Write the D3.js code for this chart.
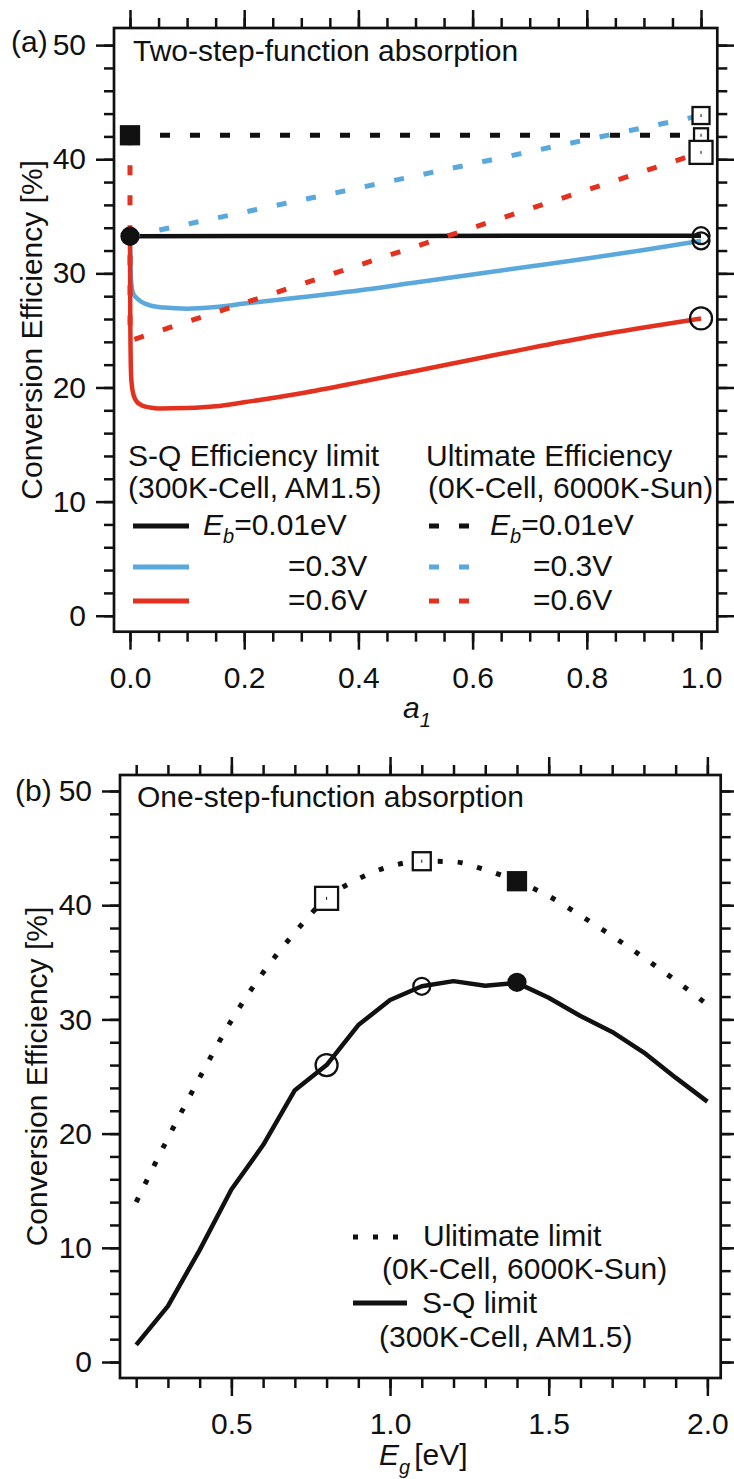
<!DOCTYPE html>
<html>
<head>
<meta charset="utf-8">
<script src="https://cdn.jsdelivr.net/npm/d3@7"></script>
<style>
  body { margin: 0; background: #fff; }
</style>
</head>
<body>
<div id="chart"></div>
<script>
// ---------- data, panel (a): efficiency vs a1 ----------
const aSqBlack = [[0, 33.25], [0.5, 33.28], [1.0, 33.3]];
const aSqBlue = [[0, 33.25], [0.001, 30.5], [0.003, 28.8], [0.006, 28.2], [0.015, 27.7], [0.035, 27.2],
  [0.06, 27.0], [0.1, 26.9], [0.15, 27.05], [0.2, 27.35], [0.3, 27.9], [0.4, 28.5], [0.5, 29.2],
  [0.6, 29.9], [0.7, 30.6], [0.8, 31.3], [0.9, 32.05], [1.0, 32.85]];
const aSqRed = [[0, 33.25], [0.0005, 26.0], [0.002, 21.0], [0.005, 19.6], [0.01, 18.9], [0.02, 18.45],
  [0.035, 18.25], [0.05, 18.16], [0.1, 18.2], [0.15, 18.35], [0.2, 18.7], [0.3, 19.5], [0.4, 20.45],
  [0.5, 21.45], [0.6, 22.45], [0.7, 23.45], [0.8, 24.4], [0.9, 25.25], [1.0, 26.05]];
const aUltBlack = [[0, 42.1], [1.0, 42.1]];
const aUltBlue = [[0, 33.25], [1.0, 43.83]];
const aUltRed = [[0, 42.1], [0, 24.1], [1.0, 40.6]];
// marker points of panel (a)
const aCircles = [[0, 33.25], [1.0, 33.3], [1.0, 32.85], [1.0, 26.05]];
const aSquares = [[0, 42.1], [1.0, 43.83], [1.0, 42.1], [1.0, 40.6]];

// ---------- data, panel (b): efficiency vs Eg ----------
const eg = [0.2, 0.3, 0.4, 0.5, 0.6, 0.7, 0.8, 0.9, 1.0, 1.1, 1.2, 1.3, 1.4, 1.5, 1.6, 1.7, 1.8, 1.9, 2.0];
const ultimate = [14.0, 19.6, 24.9, 29.9, 34.1, 37.6, 40.6, 42.3, 43.4, 43.85, 43.8, 43.1, 42.1, 40.8, 39.1, 37.3, 35.4, 33.4, 31.3];
const sqLimit = [1.5, 4.9, 9.8, 15.1, 19.0, 23.8, 26.0, 29.5, 31.7, 32.9, 33.35, 32.95, 33.2, 31.9, 30.3, 28.9, 27.1, 24.9, 22.8];
const bCircles = [[0.8, 26.0], [1.1, 32.9], [1.4, 33.25]];
const bSquares = [[0.8, 40.6], [1.1, 43.85], [1.4, 42.1]];

// ticks
const aXMajor = [0, 0.2, 0.4, 0.6, 0.8, 1.0];
const bXMajor = [0.5, 1.0, 1.5, 2.0];
const yMajor = [0, 10, 20, 30, 40, 50];

const FONT = "'Liberation Sans', Arial, Helvetica, sans-serif";
const BLUE = "#5aa8dc", RED = "#e2321f", INK = "#111";

const svg = d3.select("#chart")
  .append("svg")
  .attr("width", 734)
  .attr("height", 1479)
  .attr("font-family", FONT)
  .style("background", "#fff");

// scales
const xA = d3.scaleLinear().domain([-0.028, 1.0285]).range([114, 717.3]);
const yA = d3.scaleLinear().domain([-1.4, 51.5]).range([631.7, 28]);
const xB = d3.scaleLinear().domain([0.149, 2.042]).range([120, 720.7]);
const yB = d3.scaleLinear().domain([-1.4, 51.4]).range([1378, 775]);

function styleAxis(g) {
  g.select(".domain").remove();
  g.attr("font-family", FONT).attr("font-size", 30).attr("color", INK);
  g.selectAll(".tick line").attr("stroke-width", 2.5);
}

// frame with ticks on all four sides
function frame(x, y, xMajor, xMinor, yMinor) {
  const [x0, x1] = x.range(), [y0, y1] = y.range();
  svg.append("g").attr("transform", `translate(0,${y0})`)
    .call(d3.axisBottom(x).tickValues(xMinor).tickSize(10).tickFormat("")).call(styleAxis);
  svg.append("g").attr("transform", `translate(0,${y0})`)
    .call(d3.axisBottom(x).tickValues(xMajor).tickSize(18).tickPadding(17).tickFormat(d3.format(".1f"))).call(styleAxis);
  svg.append("g").attr("transform", `translate(0,${y1})`)
    .call(d3.axisTop(x).tickValues(xMinor).tickSize(10).tickFormat("")).call(styleAxis);
  svg.append("g").attr("transform", `translate(0,${y1})`)
    .call(d3.axisTop(x).tickValues(xMajor).tickSize(18).tickFormat("")).call(styleAxis);
  svg.append("g").attr("transform", `translate(${x0},0)`)
    .call(d3.axisLeft(y).tickValues(yMinor).tickSize(10).tickFormat("")).call(styleAxis);
  svg.append("g").attr("transform", `translate(${x0},0)`)
    .call(d3.axisLeft(y).tickValues(yMajor).tickSize(18).tickPadding(10).tickFormat(d3.format("d"))).call(styleAxis);
  svg.append("g").attr("transform", `translate(${x1},0)`)
    .call(d3.axisRight(y).tickValues(yMinor).tickSize(10).tickFormat("")).call(styleAxis);
  svg.append("g").attr("transform", `translate(${x1},0)`)
    .call(d3.axisRight(y).tickValues(yMajor).tickSize(18).tickFormat("")).call(styleAxis);
  svg.append("rect")
    .attr("x", x0).attr("y", y1)
    .attr("width", x1 - x0).attr("height", y0 - y1)
    .attr("fill", "none").attr("stroke", INK).attr("stroke-width", 2.7);
}

function drawLine(data, x, y, color, width, dash, curve) {
  svg.append("path")
    .datum(data)
    .attr("fill", "none")
    .attr("stroke", color)
    .attr("stroke-width", width)
    .attr("stroke-dasharray", dash)
    .attr("stroke-linejoin", "round")
    .attr("d", d3.line().x(d => x(d[0])).y(d => y(d[1])).curve(curve || d3.curveLinear));
}

function circles(pts, x, y, radii, fills) {
  svg.selectAll(null).data(pts).enter().append("circle")
    .attr("cx", d => x(d[0])).attr("cy", d => y(d[1]))
    .attr("r", (d, i) => radii[i])
    .attr("fill", (d, i) => fills[i] ? INK : "none")
    .attr("stroke", INK).attr("stroke-width", 2.3);
}

function squares(pts, x, y, sizes, fills) {
  svg.selectAll(null).data(pts).enter().append("rect")
    .attr("x", (d, i) => x(d[0]) - sizes[i] / 2).attr("y", (d, i) => y(d[1]) - sizes[i] / 2)
    .attr("width", (d, i) => sizes[i]).attr("height", (d, i) => sizes[i])
    .attr("fill", (d, i) => fills[i] ? INK : "#fff")
    .attr("stroke", INK).attr("stroke-width", 2.3);
  // tiny centre point of the open squares
  svg.selectAll(null).data(pts.filter((d, i) => !fills[i])).enter().append("rect")
    .attr("x", d => x(d[0]) - 0.5).attr("y", d => y(d[1]) - 1.5)
    .attr("width", 1).attr("height", 3).attr("fill", INK);
}

// ================= panel (a) =================
frame(xA, yA, aXMajor, d3.range(0, 1.001, 0.05), d3.range(0, 51, 2));

drawLine(aSqBlue, xA, yA, BLUE, 4.5, null, d3.curveMonotoneX);
drawLine(aSqRed, xA, yA, RED, 4.5, null, d3.curveMonotoneX);
drawLine(aSqBlack, xA, yA, INK, 4.5, null);
drawLine(aUltBlack, xA, yA, INK, 5, "10,20");
drawLine(aUltBlue, xA, yA, BLUE, 5, "10,20");
drawLine(aUltRed, xA, yA, RED, 5, "10,20");

circles(aCircles, xA, yA, [8.5, 8.5, 8.5, 11], [true, false, false, false]);
squares(aSquares, xA, yA, [18, 17, 14, 23], [true, false, false, false]);

svg.append("text").attr("x", 11).attr("y", 52).attr("font-size", 30).attr("fill", INK).text("(a)");
svg.append("text").attr("x", 133).attr("y", 61).attr("font-size", 30).attr("fill", INK).text("Two-step-function absorption");

svg.append("text")
  .attr("transform", `translate(42,${(28 + 631.7) / 2}) rotate(-90)`)
  .attr("text-anchor", "middle").attr("font-size", 30).attr("fill", INK)
  .text("Conversion Efficiency [%]");

const aLab = svg.append("text").attr("x", 403).attr("y", 718).attr("font-size", 30).attr("fill", INK);
aLab.append("tspan").attr("font-style", "italic").text("a");
aLab.append("tspan").attr("font-style", "italic").attr("font-size", 20).attr("dy", 9).text("1");

// legend of panel (a)
const legA = svg.append("g").attr("font-size", 30).attr("fill", INK);
legA.append("text").attr("x", 128).attr("y", 466).text("S-Q Efficiency limit");
legA.append("text").attr("x", 128).attr("y", 498).text("(300K-Cell, AM1.5)");
legA.append("text").attr("x", 426).attr("y", 466).text("Ultimate Efficiency");
legA.append("text").attr("x", 428).attr("y", 498).text("(0K-Cell, 6000K-Sun)");

const legRows = [
  { color: INK, y: 526, first: true, label: "=0.01eV" },
  { color: BLUE, y: 567, first: false, label: "=0.3V" },
  { color: RED, y: 601, first: false, label: "=0.6V" }
];
legRows.forEach(r => {
  legA.append("line").attr("x1", 133).attr("x2", 189).attr("y1", r.y).attr("y2", r.y)
    .attr("stroke", r.color).attr("stroke-width", 5);
  legA.append("line").attr("x1", 429).attr("x2", 471).attr("y1", r.y).attr("y2", r.y)
    .attr("stroke", r.color).attr("stroke-width", 5).attr("stroke-dasharray", "10,20");
  [[203, 288], [490, 533]].forEach(([xe, xv]) => {
    if (r.first) {
      const t = legA.append("text").attr("x", xe).attr("y", r.y + 9);
      t.append("tspan").attr("font-style", "italic").text("E");
      t.append("tspan").attr("font-style", "italic").attr("font-size", 20).attr("dy", 8).text("b");
      t.append("tspan").attr("dy", -8).text(r.label);
    } else {
      legA.append("text").attr("x", xv).attr("y", r.y + 9).text(r.label);
    }
  });
});

// ================= panel (b) =================
frame(xB, yB, bXMajor, d3.range(0.2, 2.001, 0.1), d3.range(0, 51, 2));

const ultPts = eg.map((e, i) => [e, ultimate[i]]);
const sqPts = eg.map((e, i) => [e, sqLimit[i]]);
drawLine(ultPts, xB, yB, INK, 5, "5,15", d3.curveMonotoneX);
drawLine(sqPts, xB, yB, INK, 4.5, null);

circles(bCircles, xB, yB, [11, 8.5, 8.5], [false, false, true]);
squares(bSquares, xB, yB, [23, 18, 18], [false, false, true]);

svg.append("text").attr("x", 15).attr("y", 801).attr("font-size", 30).attr("fill", INK).text("(b)");
svg.append("text").attr("x", 137).attr("y", 807).attr("font-size", 30).attr("fill", INK).text("One-step-function absorption");

svg.append("text")
  .attr("transform", `translate(47,${(775 + 1378) / 2}) rotate(-90)`)
  .attr("text-anchor", "middle").attr("font-size", 30).attr("fill", INK)
  .text("Conversion Efficiency [%]");

const eLab = svg.append("text").attr("x", 379).attr("y", 1465).attr("font-size", 30).attr("fill", INK);
eLab.append("tspan").attr("font-style", "italic").text("E");
eLab.append("tspan").attr("font-style", "italic").attr("font-size", 20).attr("dy", 9).text("g");
eLab.append("tspan").attr("dy", -9).attr("dx", 4).text("[eV]");

// legend of panel (b)
const legB = svg.append("g").attr("font-size", 30).attr("fill", INK);
legB.append("line").attr("x1", 353).attr("x2", 400).attr("y1", 1237).attr("y2", 1237)
  .attr("stroke", INK).attr("stroke-width", 5).attr("stroke-dasharray", "5,15");
legB.append("text").attr("x", 423).attr("y", 1246).text("Ulitimate limit");
legB.append("text").attr("x", 382).attr("y", 1279).text("(0K-Cell, 6000K-Sun)");
legB.append("line").attr("x1", 353).attr("x2", 407).attr("y1", 1303).attr("y2", 1303)
  .attr("stroke", INK).attr("stroke-width", 5);
legB.append("text").attr("x", 422).attr("y", 1313).text("S-Q limit");
legB.append("text").attr("x", 379).attr("y", 1347).text("(300K-Cell, AM1.5)");
</script>
</body>
</html>
